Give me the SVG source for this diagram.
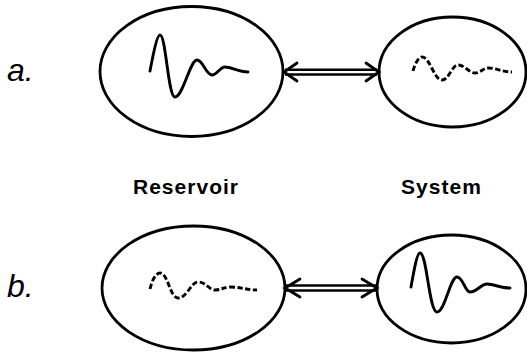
<svg xmlns="http://www.w3.org/2000/svg" width="527" height="352" viewBox="0 0 527 352">
<style>
.ell{fill:none;stroke:#000;stroke-width:2.8}
.wave{fill:none;stroke:#000;stroke-width:2.9;stroke-linecap:round;stroke-linejoin:round}
.dash{stroke-dasharray:5.5 2.5;stroke-linecap:butt}
.conn{fill:none;stroke:#000;stroke-width:2.5}
.head{fill:none;stroke:#000;stroke-width:2.8;stroke-linecap:round;stroke-linejoin:miter}
.lbl{font-family:"Liberation Sans",Arial,sans-serif;font-weight:bold;font-size:21px;fill:#000}
.tag{font-family:"Liberation Sans",Arial,sans-serif;font-style:italic;font-size:32px;fill:#000}
</style>
<rect width="527" height="352" fill="#fff"/>
<g id="label-a"><text class="tag" x="7" y="81">a.</text></g>
<g id="label-b"><text class="tag" x="7" y="297">b.</text></g>
<g id="reservoir-a">
<ellipse class="ell" cx="191.5" cy="71.5" rx="91.5" ry="65"/>
<path class="wave" d="M150,71 C153,55 157,35 160,35 C166,35 168,97 175,97 C183,97 190,60 197,60 C203,60 206,75 212,75 C217,75 220,67 225,67 C232,67 238,72 248,72"/>
</g>
<g id="system-a">
<ellipse class="ell" cx="452.5" cy="72" rx="73.5" ry="55"/>
<path class="wave dash" d="M413,71 C415,63 419,57 422,57 C430,57 434,80 442,80 C449,80 452,65 458,65 C465,65 469,73 475,73 C481,73 483,68 488,68 C496,68 502,72 512,72"/>
</g>
<g id="reservoir-b">
<ellipse class="ell" cx="193.5" cy="288" rx="91.5" ry="62"/>
<path class="wave dash" d="M150,289 C152,280 156,273 160,273 C168,273 170,298 178,298 C187,298 191,282 198,282 C206,282 209,290 215,290 C221,290 224,287 230,287 C240,287 247,290 257,290"/>
</g>
<g id="system-b">
<ellipse class="ell" cx="451.5" cy="289" rx="74.5" ry="54"/>
<path class="wave" d="M411,287 C414,270 417,253 420,253 C427,253 429,312 437,312 C445,312 450,277 457,277 C463,277 465,292 470,292 C477,292 481,284 487,284 C494,284 500,288 510,288"/>
</g>
<g id="captions">
<text class="lbl" x="133" y="194" textLength="105" lengthAdjust="spacing">Reservoir</text>
<text class="lbl" x="401" y="194" textLength="80" lengthAdjust="spacing">System</text>
</g>
<g id="connectors">
<line class="conn" x1="285" y1="69.8" x2="377" y2="69.8"/>
<line class="conn" x1="285" y1="74.6" x2="377" y2="74.6"/>
<path class="head" d="M297,63 L284,72 L297,81"/>
<path class="head" d="M366,63 L379,72 L366,81"/>
<line class="conn" x1="285" y1="285.6" x2="376" y2="285.6"/>
<line class="conn" x1="285" y1="290.6" x2="376" y2="290.6"/>
<path class="head" d="M300,279 L285,288 L300,297"/>
<path class="head" d="M362,279 L377,288 L362,297"/>
</g>
</svg>
